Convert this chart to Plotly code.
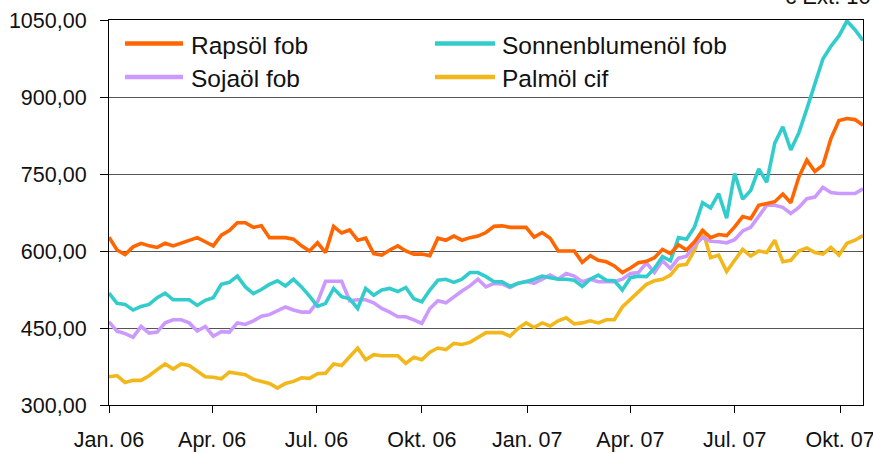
import pandas as pd
import plotly.graph_objects as go

# ---- data (weekly, EUR/t) ----
start_date = "2006-01-01"
n_weeks = 95

rapsoel = [627, 602, 593, 608, 615, 610, 607, 615, 610, 615, 620, 626, 618, 610, 631, 640, 655, 655, 646, 649, 626, 626, 626, 623, 610,
           600, 616, 597, 648, 635, 641, 621, 625, 595, 592, 602, 610, 600, 594, 594, 591, 625, 621, 629, 621, 626, 629, 636, 648, 649,
           646, 646, 646, 627, 636, 625, 600, 600, 600, 578, 591, 582, 579, 571, 558, 567, 577, 580, 587, 603, 595, 612, 602,
           618, 640, 626, 632, 630, 647, 667, 663, 689, 692, 696, 711, 694, 744, 777, 755, 767, 819, 854, 858, 856, 845]

sonnenblumenoel = [518, 498, 496, 485, 492, 496, 509, 518, 505, 505, 505, 494, 504, 509, 535, 539, 551, 530, 517, 525, 535, 542, 532, 545, 530,
                   512, 492, 498, 527, 511, 507, 488, 527, 514, 524, 527, 521, 529, 507, 501, 524, 543, 545, 539, 545, 558, 558, 550, 540, 540,
                   531, 537, 540, 545, 551, 548, 545, 545, 543, 531, 545, 553, 543, 542, 524, 548, 551, 550, 566, 589, 581, 626, 623,
                   647, 694, 684, 712, 664, 751, 701, 718, 760, 734, 810, 842, 797, 830, 877, 923, 974, 999, 1019, 1048, 1031, 1010]

sojaoel = [462, 444, 439, 432, 453, 440, 442, 460, 466, 466, 460, 444, 453, 434, 443, 442, 460, 457, 464, 473, 476, 483, 491, 485, 481,
           481, 501, 541, 541, 541, 503, 505, 505, 499, 488, 481, 472, 472, 466, 459, 488, 503, 499, 511, 522, 532, 545, 530, 537, 536,
           529, 537, 541, 537, 546, 553, 545, 556, 551, 540, 545, 540, 540, 540, 545, 556, 558, 577, 558, 581, 566, 586, 590,
           612, 626, 619, 618, 616, 622, 639, 646, 667, 689, 689, 685, 673, 685, 702, 705, 724, 714, 712, 712, 712, 721]

palmoel = [355, 357, 344, 348, 348, 357, 369, 380, 370, 380, 377, 366, 355, 354, 351, 364, 362, 359, 350, 346, 342, 333, 342, 346, 353,
           352, 361, 362, 380, 377, 394, 411, 388, 398, 396, 396, 396, 381, 393, 388, 403, 411, 408, 420, 418, 422, 432, 441, 441, 441,
           434, 449, 460, 451, 460, 454, 464, 470, 458, 460, 464, 460, 466, 466, 491, 505, 520, 535, 542, 545, 553, 572, 574,
           602, 642, 587, 592, 560, 582, 603, 590, 600, 597, 621, 579, 582, 600, 606, 597, 594, 607, 592, 615, 621, 630]

series_names = ["Rapsöl fob", "Sonnenblumenöl fob", "Sojaöl fob", "Palmöl cif"]
series_colors = ["#FF6600", "#33CCCC", "#CC99FF", "#F2B81B"]

x_tick_dates = ["2006-01-01", "2006-04-01", "2006-07-01", "2006-10-01",
                "2007-01-01", "2007-04-01", "2007-07-01", "2007-10-01"]
x_tick_labels = ["Jan. 06", "Apr. 06", "Jul. 06", "Okt. 06",
                 "Jan. 07", "Apr. 07", "Jul. 07", "Okt. 07"]
y_tick_vals = [300, 450, 600, 750, 900, 1050]
y_tick_labels = ["300,00", "450,00", "600,00", "750,00", "900,00", "1050,00"]

dates = pd.date_range(start_date, periods=n_weeks, freq="7D")
values = [rapsoel, sonnenblumenoel, sojaoel, palmoel]

FONT = "Liberation Sans, Arial, sans-serif"
W, H = 873, 453
ML, MR, MT, MB = 109, 10, 20, 48
PW, PH = W - ML - MR, H - MT - MB

fig = go.Figure()
# draw order: Palmöl, Sojaöl, Sonnenblumenöl, Rapsöl (Rapsöl on top)
for i in [3, 2, 1, 0]:
    fig.add_trace(go.Scatter(x=dates, y=values[i], mode="lines", name=series_names[i],
                             line=dict(color=series_colors[i], width=3.6), showlegend=False))

def px_x(p):
    return (p - ML) / PW

def px_y(p):
    return (H - MB - p) / PH

# manual legend (long line samples as in reference)
legend_cols = [(125, 183, 189), (435, 495, 500)]
legend_rows = [43.5, 77]
shapes, annos = [], []
for idx, name in enumerate(series_names):
    r, c = idx // 2, idx % 2
    x0, x1, xt = legend_cols[c]
    yy = legend_rows[r]
    shapes.append(dict(type="line", xref="paper", yref="paper",
                       x0=px_x(x0), x1=px_x(x1), y0=px_y(yy), y1=px_y(yy),
                       line=dict(color=series_colors[idx], width=4.5)))
    annos.append(dict(text=name, xref="paper", yref="paper", x=px_x(xt), y=px_y(yy + 1.5),
                      xanchor="left", yanchor="middle", showarrow=False,
                      font=dict(family=FONT, size=24.5, color="#111111")))

annos.append(dict(text="€ Ext. 10", xref="paper", yref="paper", x=px_x(873), y=px_y(11),
                  xanchor="right", yanchor="bottom", showarrow=False,
                  font=dict(family=FONT, size=22, color="#111111")))

fig.update_layout(
    width=W, height=H, autosize=False,
    margin=dict(l=ML, r=MR, t=MT, b=MB, pad=0, autoexpand=False),
    paper_bgcolor="white", plot_bgcolor="white",
    font=dict(family=FONT, size=21.5, color="#111111"),
    shapes=shapes, annotations=annos,
    showlegend=False,
)
fig.update_xaxes(
    range=[dates[0], dates[-1]], tickmode="array", tickvals=x_tick_dates, ticktext=x_tick_labels,
    showgrid=False, zeroline=False, showline=True, linecolor="#000000", linewidth=1.2, mirror=True,
    ticks="outside", ticklen=7, tickcolor="#000000", tickwidth=1, tickfont=dict(size=21.5),
    ticklabeloverflow="allow", automargin=False, ticklabelstandoff=8,
)
fig.update_yaxes(
    range=[300, 1050], tickmode="array", tickvals=y_tick_vals, ticktext=y_tick_labels,
    showgrid=True, gridcolor="#555555", gridwidth=1, zeroline=False,
    showline=True, linecolor="#000000", linewidth=1.2, mirror=True,
    ticks="outside", ticklen=8, tickcolor="#000000", tickwidth=1, tickfont=dict(size=21.5),
    ticklabelstandoff=9, automargin=False, ticklabeloverflow="allow",
)

# remove the default page margin so the figure sits at the window's top-left corner
fig.write_html("out.html", config={"displayModeBar": False},
               post_script="document.body.style.margin='0';document.body.style.overflow='hidden';")
